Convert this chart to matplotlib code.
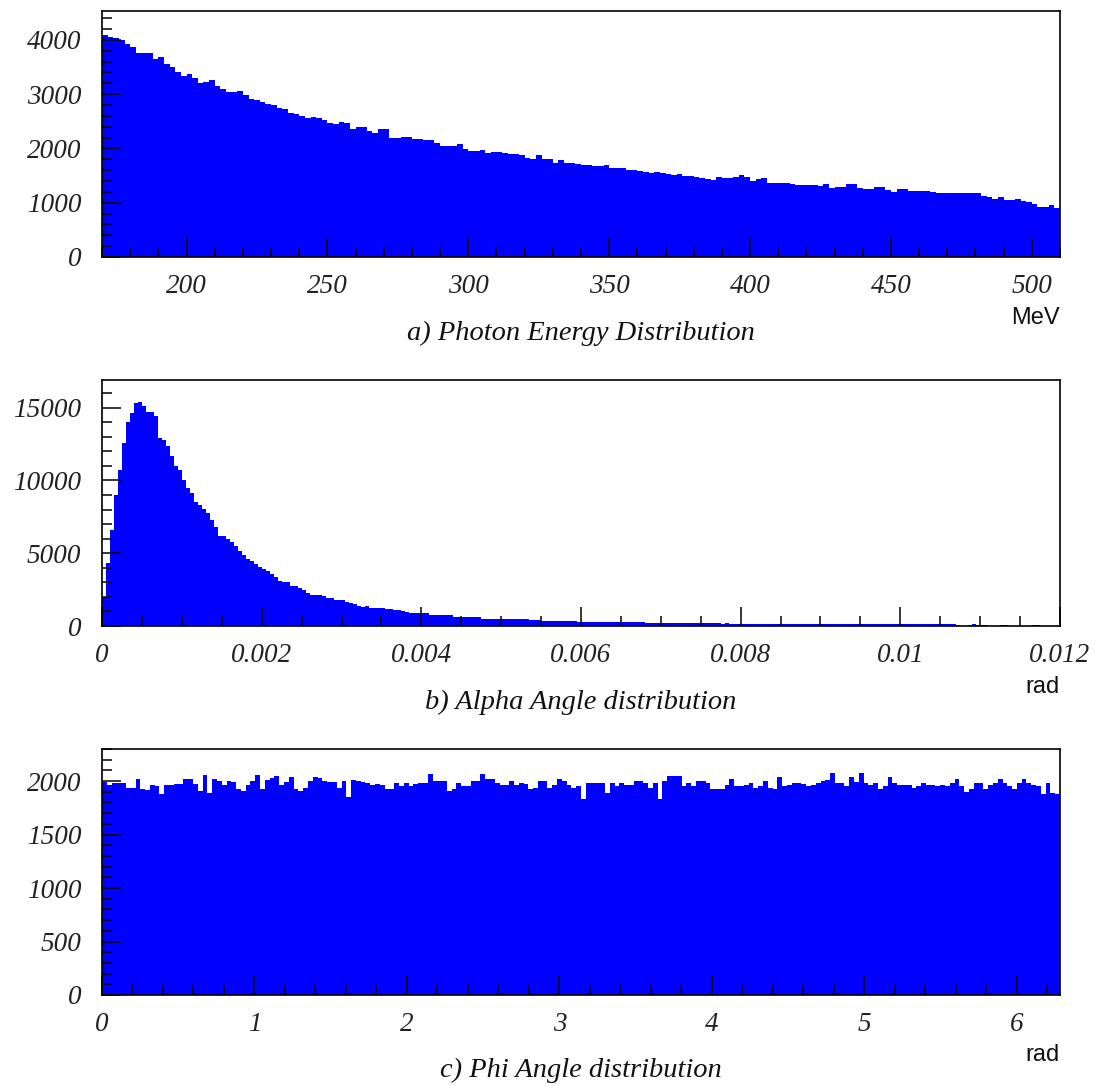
import matplotlib
matplotlib.use("Agg")
import matplotlib.pyplot as plt
import numpy as np
from matplotlib.ticker import MultipleLocator, FormatStrFormatter

# photon energy, 2 MeV bins from 170 to 510 MeV
energy_range = (170, 510)
energy_counts = [
    4085, 4060, 4040, 4000, 3930, 3870, 3750, 3750, 3760, 3650,
    3675, 3550, 3500, 3410, 3330, 3370, 3300, 3200, 3230, 3260,
    3150, 3085, 3030, 3040, 3060, 2990, 2914, 2900, 2860, 2810,
    2800, 2740, 2720, 2660, 2640, 2600, 2560, 2570, 2560, 2530,
    2470, 2440, 2490, 2470, 2350, 2400, 2400, 2320,
    2280, 2350, 2350, 2200, 2200, 2210, 2215, 2165, 2165, 2160,
    2155, 2100, 2040, 2040, 2040, 2090, 1990, 1960, 1945, 1970,
    1920, 1940, 1930, 1910, 1905, 1895, 1880, 1820, 1800, 1880,
    1810, 1800, 1740, 1780, 1735, 1725, 1720, 1700, 1700, 1680,
    1675, 1695, 1640, 1630, 1630, 1610, 1600, 1590, 1570, 1550,
    1565, 1545, 1530, 1515, 1530, 1500, 1490, 1480, 1450, 1440,
    1415, 1470, 1460, 1460,
    1480, 1515, 1465, 1405, 1430, 1450, 1370, 1370, 1355, 1360,
    1340, 1330, 1320, 1325, 1330, 1305, 1340, 1275, 1295, 1295,
    1340, 1340, 1265, 1260, 1260, 1295, 1280, 1235, 1195, 1250,
    1250, 1215, 1215, 1220, 1220, 1200, 1185, 1185, 1170, 1170,
    1170, 1170, 1170, 1175, 1120, 1100, 1075, 1110, 1050, 1050,
    1075, 1035, 1010, 975, 925, 925, 950, 895,
]

# alpha angle, 0.00005 rad bins from 0 to 0.012 rad
alpha_range = (0.0, 0.012)
alpha_counts = [
    2000, 4300, 6600, 9000, 10700, 12600, 14000, 14600, 15300, 15400,
    15100, 14700, 14700, 14400, 12900, 12800, 12400, 11700, 11000, 10700,
    10000, 9500, 9170, 8500, 8330, 8060, 7780, 7250, 6780, 6200,
    6160, 5950, 5800, 5500, 5150, 4900, 4600, 4450, 4250, 4050,
    3900, 3750, 3600, 3400, 3100, 3030, 3000, 2780, 2750, 2590,
    2450, 2300, 2150, 2150, 2130, 2040, 1950, 1900, 1800, 1800,
    1760, 1650, 1580, 1480, 1390, 1320, 1340,
    1250, 1250, 1240, 1250, 1200, 1195, 1110, 1100, 1060,
    930, 925, 920, 925, 880, 875,
    740, 745, 740, 735, 740, 740, 650,
    600, 600, 605, 600, 595, 600, 510, 515, 510, 505,
    460, 460, 465, 460, 455, 460, 460, 455, 420, 420, 415,
    325, 320, 320, 318, 322, 320, 315, 320, 318,
    300, 302, 298, 300, 300, 296, 300, 298, 295, 300,
    250, 252, 248, 250, 250, 246, 250,
    200, 205, 198, 196, 200, 198, 202,
    185, 184, 186, 182, 185, 180, 178, 182, 176, 175,
    178, 172, 170, 174, 168, 170, 165, 168,
    165, 162, 160, 164, 158, 160, 156, 158, 155, 152,
    155, 150, 152, 148, 150, 146, 148, 145, 150, 144,
    146, 142, 145, 140, 142, 138, 141, 136, 140, 135,
    138, 134, 136, 132, 135, 130, 133, 128, 132, 128,
    130, 126, 128, 125, 127, 122, 125, 120, 118,
    120, 110, 115, 105, 100, 0, 0, 100, 105, 95,
    98, 90, 0, 0, 0, 95, 90, 0, 0, 0,
    0, 0, 0, 95, 90, 0, 0, 0, 0, 0,
]

# phi angle, 200 bins from 0 to 2pi
phi_range = (0.0, 2 * np.pi)
phi_counts = [
    1990, 1960, 1980, 1985, 1985, 1940, 1935, 2020, 1930, 1920,
    1960, 1955, 1880, 1960, 1965, 1970, 1975, 2020, 2020, 1970,
    1910, 2060, 1890, 2020, 2000, 1960, 2000, 1990, 1925, 1910,
    1960, 2000, 2060, 1930, 2010, 2030, 2045, 1960, 1990, 2040,
    1930, 1910, 1940, 2000, 2040, 2030, 2000, 1990, 1990, 1940,
    2000, 1850, 2010, 2000,
    1990, 1984, 1960, 1975, 1960, 1930, 1930, 1984, 1953, 1984,
    1953, 1975, 1984, 1984, 2062, 2000, 2000, 2000, 1906, 1925,
    1984, 1953, 1950, 2000, 2000, 2062, 2015, 2015, 1978, 1960,
    1960, 2000, 1960, 1984, 1970, 1925, 1937, 2000, 2000, 1937,
    1960, 2020, 2005, 1960, 1937, 1953, 1835, 1984, 1984, 1984,
    1978, 1891, 1984, 1953, 1984, 1968, 1968, 2000, 2000, 1978,
    1937, 1984, 1835, 2000, 2046, 2046, 2046, 1953, 1978, 1953,
    2000, 2000, 1978, 1922, 1930,
    1930, 1960, 2020, 1953, 1953, 1968, 1978, 1940, 1953, 2000,
    1937, 1930, 2040, 1953, 1968, 1984, 1984, 1970, 1950, 1968,
    1984, 2000, 2010, 2077, 1984, 1978, 1953, 2040, 1990, 2077,
    1984, 1968, 1978, 1930, 1953, 2040, 1978, 1968, 1968, 1968,
    1940, 1953, 1978, 1968, 1968, 1953, 1968, 1953, 1978, 2015,
    1953, 1900, 1930, 1978, 1978, 1925, 1968, 1978, 2015, 1984,
    1953, 1922, 1978, 2015, 1984, 1968, 1953, 1875, 1978, 1891,
    1880,
]

titles = ["a) Photon Energy Distribution", "b) Alpha Angle distribution",
          "c) Phi Angle distribution"]
units = ["MeV", "rad", "rad"]

W, H = 1096, 1086
fig = plt.figure(figsize=(W / 100, H / 100), dpi=100)

serif = "Liberation Serif"
sans = "Liberation Sans"

# pixel boxes of the three frames: (top, bottom)
left_px, right_px = 102, 1060
rows_px = [(11, 257), (380, 626), (749, 995)]
title_y = [333, 702, 1070]
unit_y = [318, 687, 1055]

panels = [
    (energy_counts, energy_range, 4530, 50, 10, 1000, 200, "%g"),
    (alpha_counts, alpha_range, 16900, 0.002, 0.0005, 5000, 1000, "%g"),
    (phi_counts, phi_range, 2300, 1, 0.2, 500, 100, "%g"),
]

for i, (counts, rng, ymax, xmaj, xmin_, ymaj, ymin_, fmt) in enumerate(panels):
    top, bot = rows_px[i]
    ax = fig.add_axes([left_px / W, 1 - bot / H, (right_px - left_px) / W, (bot - top) / H])
    edges = np.linspace(rng[0], rng[1], len(counts) + 1)
    ax.stairs(counts, edges, fill=True, color="#0000ff", linewidth=0)
    ax.set_xlim(rng)
    ax.set_ylim(0, ymax)

    ax.xaxis.set_major_locator(MultipleLocator(xmaj))
    ax.xaxis.set_minor_locator(MultipleLocator(xmin_))
    ax.yaxis.set_major_locator(MultipleLocator(ymaj))
    ax.yaxis.set_minor_locator(MultipleLocator(ymin_))
    ax.xaxis.set_major_formatter(FormatStrFormatter(fmt))

    ax.tick_params(which="both", direction="in", top=False, right=False, color="black")
    ax.tick_params(which="major", length=13.5, width=1.1)
    ax.tick_params(which="minor", length=7, width=1.1)
    ax.tick_params(axis="x", which="major", pad=12)
    ax.tick_params(axis="y", which="major", pad=15)
    for lab in ax.get_xticklabels() + ax.get_yticklabels():
        lab.set_fontfamily(serif)
        lab.set_fontstyle("italic")
        lab.set_fontsize(19.5)
        lab.set_color("#222222")
    for sp in ax.spines.values():
        sp.set_linewidth(1.2)
        sp.set_color("black")

    fig.text(581 / W, 1 - title_y[i] / H, titles[i], ha="center", va="center",
             family=serif, style="italic", fontsize=20.5, color="#111111")
    fig.text(1060 / W, 1 - unit_y[i] / H, units[i], ha="right", va="center",
             family=sans, fontsize=17, color="#111111")

fig.savefig("out.png", dpi=100)
